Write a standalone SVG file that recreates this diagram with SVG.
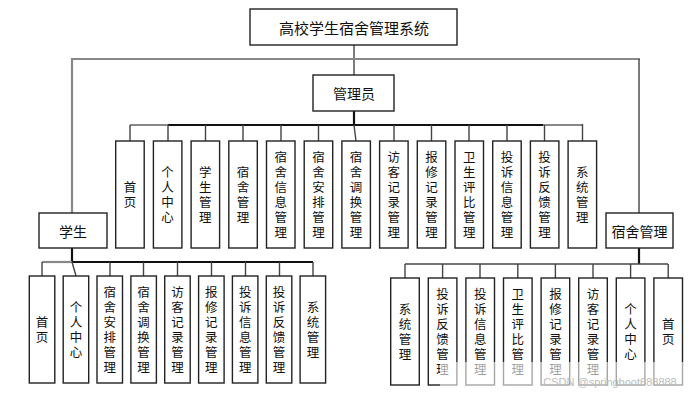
<svg xmlns="http://www.w3.org/2000/svg" width="696" height="400" viewBox="0 0 696 400">
<style>
.box{fill:#fff;stroke:#222;stroke-width:1.4}
.t{font-family:"Noto Sans CJK SC","Liberation Sans",sans-serif;fill:#111;text-anchor:middle;dominant-baseline:central}
.h{font-size:14px}
.v{font-size:12.5px;writing-mode:vertical-rl;letter-spacing:2.5px}
.c{fill:none;stroke:#444;stroke-width:1.4}
.g{fill:none;stroke:#888;stroke-width:2.2}
.k{fill:none;stroke:#111;stroke-width:2.2}
</style>
<rect width="696" height="400" fill="#fff"/>
<g id="connectors">
<line class="c" x1="354" y1="45" x2="354" y2="75"/>
<line class="g" x1="72" y1="59" x2="640" y2="59"/>
<line class="g" x1="72" y1="58" x2="72" y2="213"/>
<line class="c" x1="639" y1="59" x2="639" y2="213"/>
<line class="k" x1="354" y1="111" x2="354" y2="125"/>
<line class="g" x1="130" y1="125" x2="170" y2="125"/>
<line class="k" x1="168" y1="125" x2="545" y2="125"/>
<line class="g" x1="543" y1="125" x2="583" y2="125"/>
<path class="c" d="M130 125V141M168 125V141M205.5 125V141M243 125V141M281 125V141M318.5 125V141M354 125L356 141M394 125V141M431.5 125V141M469 125V141M507 125V141M544.5 125V141M582.5 124V141"/>
<line class="k" x1="72" y1="248" x2="72" y2="262"/>
<line class="g" x1="42" y1="262" x2="72" y2="262"/>
<line class="k" x1="72" y1="262" x2="313" y2="262"/>
<path class="c" d="M42 262V276M72 262L76 276M110 262V276M143.5 262V276M177.5 262V276M211.5 262V276M245.5 262V276M279.5 262V276M313 262V276"/>
<line class="k" x1="639" y1="248" x2="639" y2="264"/>
<line class="c" x1="405" y1="264" x2="668" y2="264"/>
<path class="c" d="M405 264V278M442.6 264V278M480 264V278M517.8 264V278M555.4 264V278M593 264V278M630.6 264V278M668.2 264V278"/>
</g>
<g id="root"><rect class="box" x="250" y="9" width="207" height="36"/><text class="t" x="354" y="27" font-size="15">高校学生宿舍管理系统</text></g>
<g id="admin"><rect class="box" x="313" y="75" width="81" height="36"/><text class="t h" x="354" y="93">管理员</text></g>
<g id="student"><rect class="box" x="39" y="213" width="68" height="35"/><text class="t h" x="73" y="230.5">学生</text></g>
<g id="dorm"><rect class="box" x="606" y="213" width="67" height="35"/><text class="t h" x="639.5" y="230.5">宿舍管理</text></g>

<g id="a1"><rect class="box" x="115.7" y="141" width="28.5" height="107"/><text class="t v" x="130" y="195.7">首页</text></g>
<g id="a2"><rect class="box" x="153.4" y="141" width="28.5" height="107"/><text class="t v" x="167.6" y="195.7">个人中心</text></g>
<g id="a3"><rect class="box" x="191.1" y="141" width="28.5" height="107"/><text class="t v" x="205.3" y="195.7">学生管理</text></g>
<g id="a4"><rect class="box" x="228.8" y="141" width="28.5" height="107"/><text class="t v" x="243" y="195.7">宿舍管理</text></g>
<g id="a5"><rect class="box" x="266.5" y="141" width="28.5" height="107"/><text class="t v" x="280.7" y="195.7">宿舍信息管理</text></g>
<g id="a6"><rect class="box" x="304.2" y="141" width="28.5" height="107"/><text class="t v" x="318.4" y="195.7">宿舍安排管理</text></g>
<g id="a7"><rect class="box" x="341.9" y="141" width="28.5" height="107"/><text class="t v" x="356.1" y="195.7">宿舍调换管理</text></g>
<g id="a8"><rect class="box" x="379.6" y="141" width="28.5" height="107"/><text class="t v" x="393.8" y="195.7">访客记录管理</text></g>
<g id="a9"><rect class="box" x="417.3" y="141" width="28.5" height="107"/><text class="t v" x="431.5" y="195.7">报修记录管理</text></g>
<g id="a10"><rect class="box" x="455" y="141" width="28.5" height="107"/><text class="t v" x="469.2" y="195.7">卫生评比管理</text></g>
<g id="a11"><rect class="box" x="492.7" y="141" width="28.5" height="107"/><text class="t v" x="506.9" y="195.7">投诉信息管理</text></g>
<g id="a12"><rect class="box" x="530.4" y="141" width="28.5" height="107"/><text class="t v" x="544.6" y="195.7">投诉反馈管理</text></g>
<g id="a13"><rect class="box" x="568.1" y="141" width="28.5" height="107"/><text class="t v" x="582.3" y="195.7">系统管理</text></g>

<g id="s1"><rect class="box" x="29.3" y="276" width="25.5" height="107"/><text class="t v" x="42" y="330.7">首页</text></g>
<g id="s2"><rect class="box" x="63.2" y="276" width="25.5" height="107"/><text class="t v" x="76" y="330.7">个人中心</text></g>
<g id="s3"><rect class="box" x="97" y="276" width="25.5" height="107"/><text class="t v" x="109.8" y="330.7">宿舍安排管理</text></g>
<g id="s4"><rect class="box" x="130.9" y="276" width="25.5" height="107"/><text class="t v" x="143.6" y="330.7">宿舍调换管理</text></g>
<g id="s5"><rect class="box" x="164.7" y="276" width="25.5" height="107"/><text class="t v" x="177.5" y="330.7">访客记录管理</text></g>
<g id="s6"><rect class="box" x="198.6" y="276" width="25.5" height="107"/><text class="t v" x="211.3" y="330.7">报修记录管理</text></g>
<g id="s7"><rect class="box" x="232.4" y="276" width="25.5" height="107"/><text class="t v" x="245.2" y="330.7">投诉信息管理</text></g>
<g id="s8"><rect class="box" x="266.3" y="276" width="25.5" height="107"/><text class="t v" x="279" y="330.7">投诉反馈管理</text></g>
<g id="s9"><rect class="box" x="300.1" y="276" width="25.5" height="107"/><text class="t v" x="312.9" y="330.7">系统管理</text></g>

<g id="d1"><rect class="box" x="390.7" y="278" width="28.6" height="107"/><text class="t v" x="405" y="332.7">系统管理</text></g>
<g id="d2"><rect class="box" x="428.3" y="278" width="28.6" height="107"/><text class="t v" x="442.6" y="332.7">投诉反馈管理</text></g>
<g id="d3"><rect class="box" x="465.9" y="278" width="28.6" height="107"/><text class="t v" x="480.2" y="332.7">投诉信息管理</text></g>
<g id="d4"><rect class="box" x="503.5" y="278" width="28.6" height="107"/><text class="t v" x="517.8" y="332.7">卫生评比管理</text></g>
<g id="d5"><rect class="box" x="541.1" y="278" width="28.6" height="107"/><text class="t v" x="555.4" y="332.7">报修记录管理</text></g>
<g id="d6"><rect class="box" x="578.7" y="278" width="28.6" height="107"/><text class="t v" x="593" y="332.7">访客记录管理</text></g>
<g id="d7"><rect class="box" x="616.3" y="278" width="28.6" height="107"/><text class="t v" x="630.6" y="332.7">个人中心</text></g>
<g id="d8"><rect class="box" x="653.9" y="278" width="28.6" height="107"/><text class="t v" x="668.2" y="332.7">首页</text></g>

<g id="watermark">
<rect x="440" y="362" width="256" height="38" fill="#fff" opacity="0.6"/>
<text x="610" y="386" font-family="'Liberation Sans',sans-serif" font-size="11" fill="#bbb" text-anchor="middle">CSDN @springboot688888</text>
</g>
</svg>
